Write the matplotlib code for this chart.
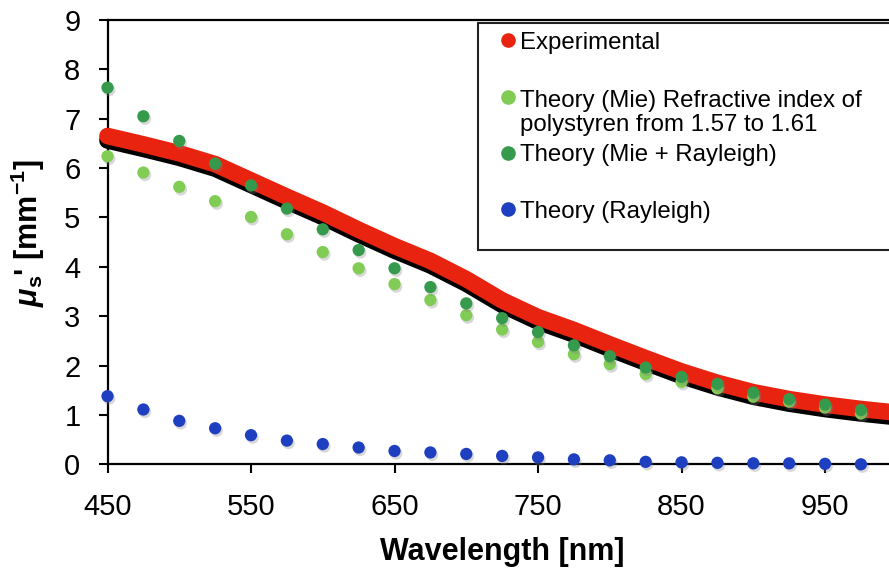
import matplotlib
matplotlib.use("Agg")
from matplotlib import pyplot as plt
from matplotlib import patheffects as pe
from matplotlib.patches import Rectangle
from matplotlib.lines import Line2D

# wavelengths of the theory points (nm)
wl_theory = [450, 475, 500, 525, 550, 575, 600, 625, 650, 675, 700,
             725, 750, 775, 800, 825, 850, 875, 900, 925, 950, 975]
# theory: Mie only
mie = [6.24, 5.91, 5.62, 5.33, 5.01, 4.66, 4.30, 3.97, 3.65, 3.33, 3.02,
       2.73, 2.48, 2.23, 2.03, 1.83, 1.67, 1.54, 1.37, 1.27, 1.15, 1.03]
# theory: Mie + Rayleigh
mie_rayleigh = [7.63, 7.05, 6.55, 6.09, 5.65, 5.18, 4.76, 4.34, 3.97, 3.59, 3.26,
                2.96, 2.68, 2.41, 2.19, 1.96, 1.77, 1.63, 1.45, 1.32, 1.21, 1.10]
# theory: Rayleigh only
rayleigh = [1.38, 1.11, 0.88, 0.73, 0.59, 0.48, 0.41, 0.34, 0.27, 0.24, 0.21,
            0.17, 0.14, 0.10, 0.08, 0.05, 0.04, 0.03, 0.02, 0.02, 0.01, 0.00]

# experimental curve (read along the red band)
wl_exp = [450, 475, 500, 525, 550, 575, 600, 625, 650, 675, 700, 725,
          750, 775, 800, 825, 850, 875, 900, 925, 950, 975, 995]
experimental = [6.65, 6.48, 6.30, 6.08, 5.75, 5.42, 5.10, 4.75, 4.42, 4.12, 3.75, 3.32,
                2.98, 2.72, 2.43, 2.15, 1.88, 1.65, 1.46, 1.32, 1.21, 1.12, 1.06]

labels = ["Experimental",
          "Theory (Mie) Refractive index of\npolystyren from 1.57 to 1.61",
          "Theory (Mie + Rayleigh)",
          "Theory (Rayleigh)"]
colors = ["#e8230f", "#80cc55", "#369a4c", "#1e3fc0"]

plt.rcParams["font.family"] = ["Liberation Sans", "DejaVu Sans"]
plt.rcParams["mathtext.fontset"] = "custom"
plt.rcParams["mathtext.rm"] = "Liberation Sans:bold"
plt.rcParams["mathtext.bf"] = "Liberation Sans:bold"
plt.rcParams["mathtext.it"] = "Liberation Sans:bold:italic"

W, H = 889, 576
fig = plt.figure(figsize=(W / 100, H / 100), dpi=100)
ax = fig.add_axes([107.5 / W, 111.7 / H, 789.3 / W, 444.3 / H])

shadow = [pe.SimplePatchShadow(offset=(1.2, -1.8), shadow_rgbFace="0.5", alpha=0.3), pe.Normal()]

# experimental band with black shadow underneath
ax.plot(wl_exp, experimental, color=colors[0], lw=12, solid_capstyle="round",
        solid_joinstyle="round", clip_on=False, zorder=3,
        path_effects=[pe.SimpleLineShadow(offset=(0, -3.2), shadow_color="black", alpha=1.0),
                      pe.Normal()])

ax.scatter(wl_theory, mie, s=78, color=colors[1], lw=0, zorder=4, clip_on=False,
           path_effects=shadow)
ax.scatter(wl_theory, mie_rayleigh, s=78, color=colors[2], lw=0, zorder=5, clip_on=False,
           path_effects=shadow)
ax.scatter(wl_theory, rayleigh, s=78, color=colors[3], lw=0, zorder=5, clip_on=False,
           path_effects=shadow)

ax.set_xlim(450, 1000)
ax.set_ylim(0, 9)
ax.set_xticks(range(450, 1000, 100))
ax.set_yticks(range(0, 10))
ax.tick_params(axis="both", direction="out", length=6.5, width=1.5, labelsize=21, color="black")
ax.tick_params(axis="y", pad=13)
ax.tick_params(axis="x", pad=14)
for side in ["left", "bottom", "top", "right"]:
    ax.spines[side].set_linewidth(1.6)

ax.set_xlabel("Wavelength [nm]", fontsize=22, fontweight="bold", va="center")
ax.xaxis.set_label_coords(0.5, -0.197)
ax.set_ylabel(r"$\mu_{\mathrm{s}}$' [mm$^{-1}$]", fontsize=22, fontweight="bold", va="center")
ax.yaxis.set_label_coords(-0.101, 0.52)

# legend box, drawn by hand to keep the uneven spacing of the original
fig.patches.append(Rectangle((478 / W, (H - 250) / H), 0.6, (250 - 23) / H,
                             transform=fig.transFigure, fill=True, facecolor="white",
                             edgecolor="#222222", lw=1.5, zorder=10))
marker_y = [40, 97, 153, 209]
text_y = [43, 113, 155, 212]
for lab, col, my, ty in zip(labels, colors, marker_y, text_y):
    fig.add_artist(Line2D([508 / W], [(H - my) / H], marker="o", markersize=9.5,
                          color=col, lw=0, transform=fig.transFigure, zorder=11))
    fig.text(520 / W, (H - ty) / H, lab, fontsize=17.3, va="center", ha="left",
             linespacing=1.12, zorder=12)

fig.savefig("out.png", dpi=100)
